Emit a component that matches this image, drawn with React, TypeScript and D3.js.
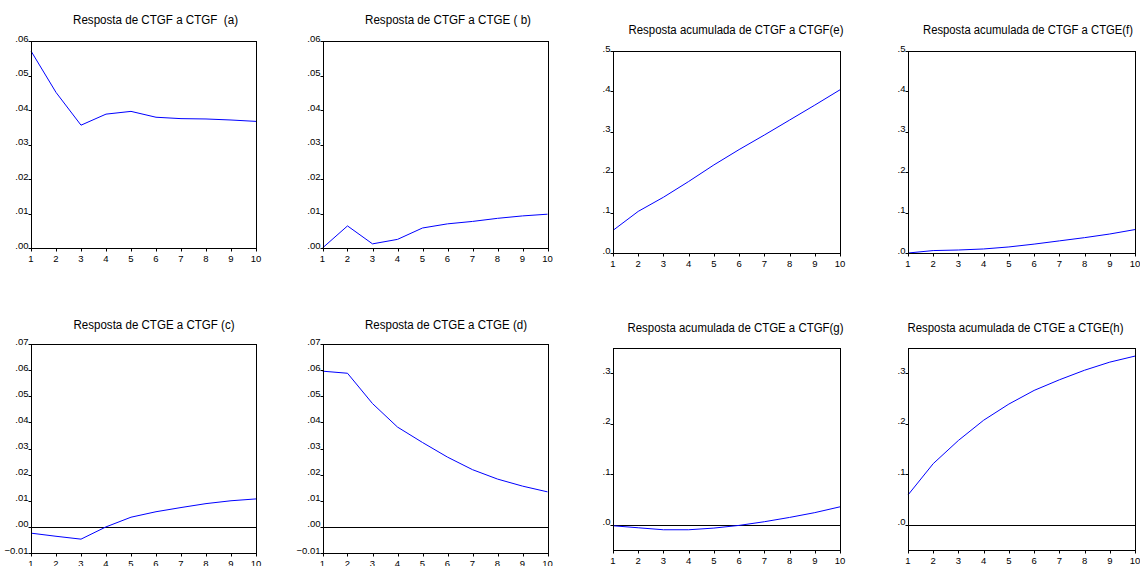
import * as d3 from "d3";

// horizontes (períodos)
const periods = [1, 2, 3, 4, 5, 6, 7, 8, 9, 10];

// respostas a impulso
const ctgfToCtgf = [0.0571, 0.0451, 0.0356, 0.0388, 0.0396, 0.0379, 0.0375, 0.0374, 0.0371, 0.0367];
const ctgfToCtge = [0.0, 0.0064, 0.0012, 0.0025, 0.0058, 0.007, 0.0077, 0.0086, 0.0093, 0.0098];
const ctgeToCtgf = [-0.0024, -0.0036, -0.0047, 0.0, 0.0037, 0.0058, 0.0074, 0.0089, 0.01, 0.0107];
const ctgeToCtge = [0.0596, 0.0588, 0.0472, 0.0382, 0.0323, 0.0267, 0.0219, 0.0183, 0.0156, 0.0134];

// respostas acumuladas
const accCtgfToCtgf = [0.056, 0.103, 0.138, 0.177, 0.218, 0.256, 0.292, 0.329, 0.366, 0.404];
const accCtgfToCtge = [0.0, 0.006, 0.0074, 0.01, 0.015, 0.022, 0.03, 0.038, 0.047, 0.058];
const accCtgeToCtgf = [-0.002, -0.006, -0.0099, -0.0099, -0.0066, -0.0013, 0.006, 0.0145, 0.024, 0.0355];
const accCtgeToCtge = [0.059, 0.121, 0.167, 0.207, 0.239, 0.266, 0.287, 0.306, 0.322, 0.334];

// eixos Y
const ticksSmallA = [0, 0.01, 0.02, 0.03, 0.04, 0.05, 0.06];
const ticksSmallC = [-0.01, 0, 0.01, 0.02, 0.03, 0.04, 0.05, 0.06, 0.07];
const ticksAccE = [0, 0.1, 0.2, 0.3, 0.4, 0.5];
const ticksAccG = [0, 0.1, 0.2, 0.3];

type Panel = {
  title: string;
  values: number[];
  domain: [number, number];
  ticks: number[];
  digits: number;
  zeroLine: boolean;
  box: { left: number; right: number; top: number; bottom: number };
  titleX: number;
  titleY: number;
  titleW: number;
};

const panels: Panel[] = [
  { title: "Resposta de CTGF a CTGF  (a)", values: ctgfToCtgf, domain: [0, 0.06], ticks: ticksSmallA, digits: 2, zeroLine: false,
    box: { left: 31, right: 256, top: 41, bottom: 248 }, titleX: 155.5, titleY: 24, titleW: 165 },
  { title: "Resposta de CTGF a CTGE ( b)", values: ctgfToCtge, domain: [0, 0.06], ticks: ticksSmallA, digits: 2, zeroLine: false,
    box: { left: 322.5, right: 547.5, top: 41, bottom: 248 }, titleX: 448, titleY: 24, titleW: 166 },
  { title: "Resposta acumulada de CTGF a CTGF(e)", values: accCtgfToCtgf, domain: [0, 0.5], ticks: ticksAccE, digits: 1, zeroLine: false,
    box: { left: 613, right: 840, top: 51, bottom: 253 }, titleX: 736, titleY: 34, titleW: 215 },
  { title: "Resposta acumulada de CTGF a CTGE(f)", values: accCtgfToCtge, domain: [0, 0.5], ticks: ticksAccE, digits: 1, zeroLine: false,
    box: { left: 908, right: 1135, top: 51, bottom: 253 }, titleX: 1028, titleY: 34, titleW: 210 },
  { title: "Resposta de CTGE a CTGF (c)", values: ctgeToCtgf, domain: [-0.01, 0.07], ticks: ticksSmallC, digits: 2, zeroLine: true,
    box: { left: 31, right: 256, top: 344, bottom: 553 }, titleX: 154, titleY: 329, titleW: 161 },
  { title: "Resposta de CTGE a CTGE (d)", values: ctgeToCtge, domain: [-0.01, 0.07], ticks: ticksSmallC, digits: 2, zeroLine: true,
    box: { left: 322.5, right: 547.5, top: 344, bottom: 553 }, titleX: 446, titleY: 329, titleW: 162 },
  { title: "Resposta acumulada de CTGE a CTGF(g)", values: accCtgeToCtgf, domain: [-0.05, 0.35], ticks: ticksAccG, digits: 1, zeroLine: true,
    box: { left: 613, right: 840, top: 348, bottom: 550 }, titleX: 735.5, titleY: 332, titleW: 216 },
  { title: "Resposta acumulada de CTGE a CTGE(h)", values: accCtgeToCtge, domain: [-0.05, 0.35], ticks: ticksAccG, digits: 1, zeroLine: true,
    box: { left: 908, right: 1135, top: 348, bottom: 550 }, titleX: 1015.5, titleY: 332, titleW: 216 },
];

const FONT = "'Liberation Sans', Arial, sans-serif";

// formato estilo EViews: ".06", "-.01"
const fmt = (v: number, digits: number) =>
  d3.format(`.${digits}f`)(v).replace(/^(-?)0\./, "$1.");

const snap = (v: number) => Math.round(v) + 0.5;

const IrfPanel = ({ p }: { p: Panel }) => {
  const { left, right, top, bottom } = p.box;
  const x = d3.scaleLinear().domain([1, 10]).range([left, right]);
  const y = d3.scaleLinear().domain(p.domain).range([bottom, top]);
  const line = d3
    .line<number>()
    .x((_, i) => x(periods[i]))
    .y((d) => y(d));

  const L = snap(left);
  const R = snap(right);
  const T = snap(top);
  const B = snap(bottom);

  return (
    <g>
      <text
        x={p.titleX}
        y={p.titleY}
        textAnchor="middle"
        fontFamily={FONT}
        fontSize={12}
        textLength={p.titleW}
        lengthAdjust="spacingAndGlyphs"
        style={{ whiteSpace: "pre" }}
        fill="#000"
      >
        {p.title}
      </text>

      {p.zeroLine && (
        <line x1={L} x2={R} y1={snap(y(0))} y2={snap(y(0))} stroke="#000" strokeWidth={1} />
      )}

      <path d={line(p.values) ?? ""} fill="none" stroke="#0000ff" strokeWidth={1} />

      <rect x={L} y={T} width={R - L} height={B - T} fill="none" stroke="#000" strokeWidth={1} />

      {p.ticks.map((t) => (
        <g key={t}>
          <line x1={L - 3} x2={L} y1={snap(y(t))} y2={snap(y(t))} stroke="#000" />
          <text
            x={L - 3}
            y={y(t) + 0.5}
            textAnchor="end"
            fontFamily={FONT}
            fontSize={9.5}
            fill="#000"
          >
            {fmt(t, p.digits)}
          </text>
        </g>
      ))}

      {periods.map((t) => (
        <g key={t}>
          <line x1={snap(x(t))} x2={snap(x(t))} y1={B} y2={B + 3} stroke="#000" />
          <text
            x={x(t)}
            y={B + 13}
            textAnchor="middle"
            fontFamily={FONT}
            fontSize={9.5}
            fill="#000"
          >
            {t}
          </text>
        </g>
      ))}
    </g>
  );
};

export default function App() {
  return (
    <svg
      width={1140}
      height={566}
      style={{ position: "absolute", left: 0, top: 0, background: "#fff" }}
    >
      <rect width={1140} height={566} fill="#fff" />
      {panels.map((p) => (
        <IrfPanel key={p.title} p={p} />
      ))}
    </svg>
  );
}
